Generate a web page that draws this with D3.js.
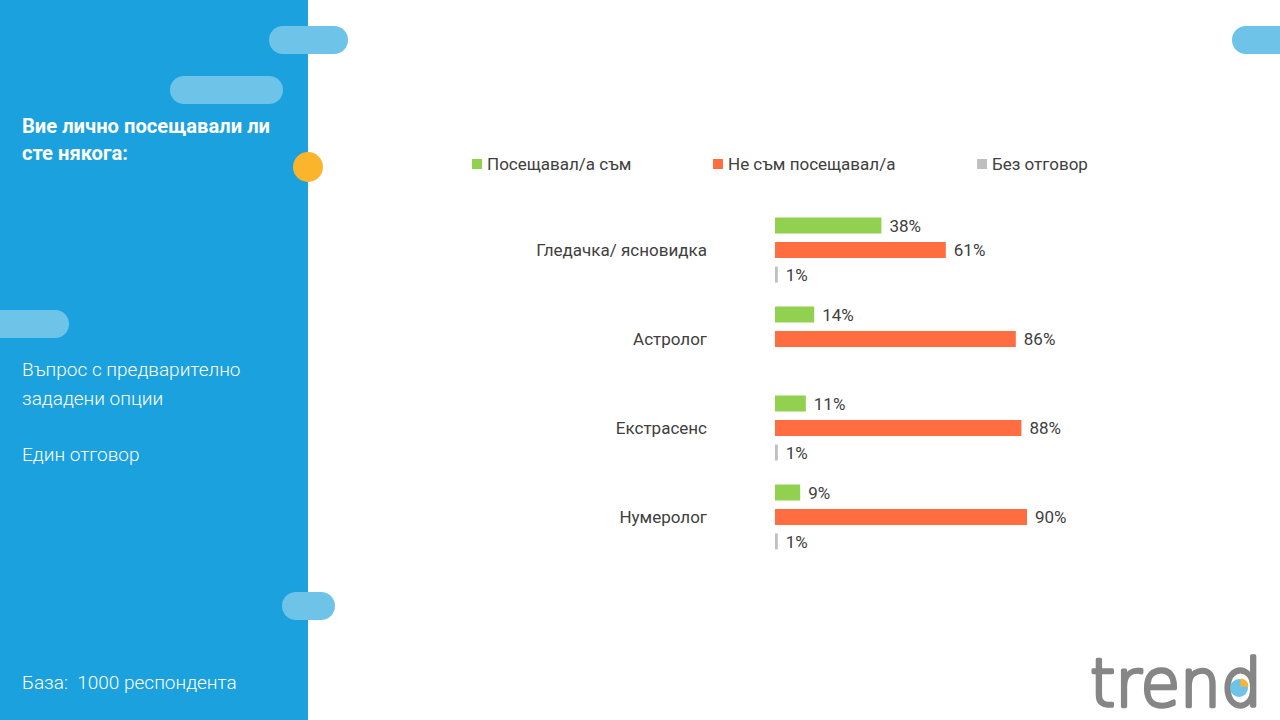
<!DOCTYPE html>
<html>
<head>
<meta charset="utf-8">
<script src="https://cdn.jsdelivr.net/npm/d3@7"></script>
<style>
  body { margin: 0; background: #fff; }
  svg { display: block; font-family: Roboto, "Noto Sans", sans-serif; }
  text { white-space: pre; }
</style>
</head>
<body>
<svg id="chart" width="1280" height="720"></svg>
<script>
// данни
const categories = ["Гледачка/ ясновидка", "Астролог", "Екстрасенс", "Нумеролог"];
const seriesNames = ["Посещавал/а съм", "Не съм посещавал/а", "Без отговор"];
const visited = [38, 14, 11, 9];
const notVisited = [61, 86, 88, 90];
const noAnswer = [1, null, 1, 1];
const seriesColors = ["#92d050", "#ff6d40", "#bfbfbf"];

const svg = d3.select("#chart");
const textColor = "#404040";

// лявия панел
svg.append("rect").attr("x", 0).attr("y", 0).attr("width", 308).attr("height", 720).attr("fill", "#1ba1dd");

const pills = [
  { x: 269, y: 26, w: 79 },
  { x: 170, y: 76, w: 113 },
  { x: -20, y: 310, w: 89 },
  { x: 282, y: 592, w: 53 },
  { x: 1232, y: 26, w: 80 }
];
svg.selectAll("rect.pill")
  .data(pills).enter().append("rect")
  .attr("class", "pill")
  .attr("x", d => d.x).attr("y", d => d.y)
  .attr("width", d => d.w).attr("height", 28)
  .attr("rx", 14)
  .attr("fill", "#6ec4e8");

svg.append("circle").attr("cx", 308).attr("cy", 167).attr("r", 15).attr("fill", "#fbb52c");

// заглавие (малко свито, като condensed шрифт)
const title = svg.append("text")
  .attr("transform", "translate(22,0) scale(0.96,1)")
  .attr("fill", "#fff").attr("font-size", 21).attr("font-weight", "bold");
title.append("tspan").attr("x", 0).attr("y", 133).text("Вие лично посещавали ли");
title.append("tspan").attr("x", 0).attr("y", 160).text("сте някога:");

const notes = [
  { t: "Въпрос с предварително", y: 376 },
  { t: "зададени опции", y: 405 },
  { t: "Един отговор", y: 461 },
  { t: "База:  1000 респондента", y: 689 }
];
svg.selectAll("text.note")
  .data(notes).enter().append("text")
  .attr("class", "note")
  .attr("x", 22).attr("y", d => d.y)
  .attr("fill", "#fff").attr("font-size", 19).attr("font-weight", 300)
  .text(d => d.t);

// легенда
const legendX = [472, 713, 977];
const legend = svg.selectAll("g.legend")
  .data(seriesNames).enter().append("g")
  .attr("class", "legend")
  .attr("transform", (d, i) => `translate(${legendX[i]},164)`);
legend.append("rect").attr("x", 0).attr("y", -5).attr("width", 10).attr("height", 10)
  .attr("fill", (d, i) => seriesColors[i]);
legend.append("text").attr("x", 15).attr("y", 6)
  .attr("font-size", 17).attr("fill", textColor)
  .text(d => d);

// скали
const x = d3.scaleLinear().domain([0, 100]).range([775, 1055]);
const y = d3.scaleBand().domain(categories).range([205.5, 561.5]);
const yInner = d3.scaleBand().domain(seriesNames).range([-36.75, 36.75]);
const barH = 16;

const rows = [];
categories.forEach((c, i) => {
  [visited[i], notVisited[i], noAnswer[i]].forEach((v, j) => {
    if (v != null) rows.push({ cat: c, series: seriesNames[j], value: v, color: seriesColors[j] });
  });
});

const cy = d => y(d.cat) + y.bandwidth() / 2 + yInner(d.series) + yInner.bandwidth() / 2;

svg.selectAll("rect.bar")
  .data(rows).enter().append("rect")
  .attr("class", "bar")
  .attr("x", x(0))
  .attr("y", d => cy(d) - barH / 2)
  .attr("width", d => x(d.value) - x(0))
  .attr("height", barH)
  .attr("fill", d => d.color);

svg.selectAll("text.val")
  .data(rows).enter().append("text")
  .attr("class", "val")
  .attr("x", d => x(d.value) + 8)
  .attr("y", d => cy(d) + 6)
  .attr("font-size", 17).attr("fill", textColor)
  .text(d => d.value + "%");

svg.selectAll("text.cat")
  .data(categories).enter().append("text")
  .attr("class", "cat")
  .attr("x", 707)
  .attr("y", d => y(d) + y.bandwidth() / 2 + 6)
  .attr("text-anchor", "end")
  .attr("font-size", 17).attr("fill", textColor)
  .text(d => d);

// лого
const logo = svg.append("text")
  .attr("x", 1090).attr("y", 706)
  .attr("textLength", 172).attr("lengthAdjust", "spacingAndGlyphs")
  .attr("font-family", "DejaVu Sans").attr("font-size", 66).attr("font-weight", 200)
  .attr("fill", "#868686").attr("stroke", "#868686").attr("stroke-width", 3.5)
  .attr("stroke-linejoin", "round")
  .text("trend");

// пайчето в корема на "d"
let pieX = 1238;
try {
  const ext = logo.node().getExtentOfChar(4);
  pieX = ext.x + ext.width * 0.44;
} catch (e) {}
svg.append("circle").attr("cx", pieX).attr("cy", 688).attr("r", 9).attr("fill", "#6ec4e8");
svg.append("path")
  .attr("transform", `translate(${pieX + 1.5},686.5)`)
  .attr("d", d3.arc().innerRadius(0).outerRadius(8)({ startAngle: 0, endAngle: Math.PI / 2 }))
  .attr("fill", "#fbb52c");
</script>
</body>
</html>
